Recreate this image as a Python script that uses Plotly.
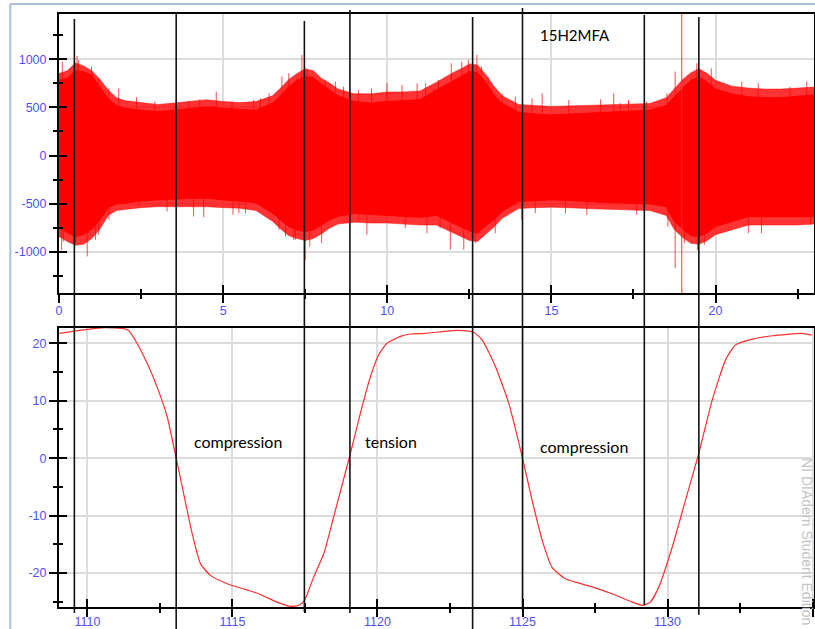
import plotly.graph_objects as go

# ---------------- upper panel: acoustic emission signal ----------------
# envelope of the dense signal body (time in s, amplitude)
ae_time = [0, 0.25, 0.5, 0.75, 1.0, 1.25, 1.5, 1.75, 2.0, 2.5, 3.0, 3.5, 4.0, 4.5,
           5.0, 5.5, 6.0, 6.5, 6.75, 7.0, 7.25, 7.5, 7.75, 8.0, 8.25, 8.5, 9.0,
           9.5, 10.0, 10.5, 11.0, 11.5, 12.0, 12.25, 12.5, 12.75, 13.0, 13.25,
           13.5, 14.0, 14.5, 15.0, 15.5, 16.0, 16.5, 17.0, 17.5, 18.0, 18.5,
           18.75, 19.0, 19.25, 19.5, 19.75, 20.0, 20.5, 21.0, 21.5, 22.0, 22.5, 23.0]
ae_upper = [780, 800, 880, 870, 830, 710, 590, 520, 490, 470, 456, 470, 490, 505,
            490, 480, 470, 543, 620, 715, 780, 819, 810, 740, 680, 620, 560,
            545, 560, 570, 580, 680, 770, 820, 870, 860, 760, 630,
            540, 450, 430, 422, 430, 439, 445, 450, 460, 470, 520,
            612, 700, 780, 815, 760, 690, 640, 610, 600, 600, 615, 629]
ae_lower = [-730, -800, -839, -820, -760, -666, -540, -500, -494, -470, -459, -450, -445, -442,
            -460, -470, -490, -597, -670, -736, -770, -788, -770, -720, -666, -630, -600,
            -610, -620, -630, -640, -620, -700, -740, -780, -805, -730, -666,
            -580, -477, -465, -459, -465, -477, -485, -490, -494, -500, -530,
            -684, -760, -830, -839, -800, -736, -680, -632, -632, -632, -632, -632]
# outer fringe reached by the frequent short bursts
ae_fringe_upper = [850, 880, 960, 930, 880, 790, 680, 600, 570, 550, 530, 545, 560, 580,
                   560, 550, 560, 620, 700, 790, 850, 900, 880, 800, 750, 690, 640,
                   640, 660, 660, 670, 760, 860, 900, 950, 940, 840, 720,
                   620, 530, 520, 510, 515, 520, 525, 530, 535, 540, 600,
                   700, 790, 860, 900, 850, 780, 720, 700, 690, 690, 700, 710]
ae_fringe_lower = [-840, -890, -930, -920, -860, -760, -620, -570, -560, -540, -530, -530, -530, -530,
                   -540, -545, -570, -680, -760, -830, -860, -880, -860, -810, -750, -710, -690,
                   -700, -700, -710, -720, -720, -800, -840, -880, -890, -820, -740,
                   -650, -550, -540, -535, -540, -550, -555, -560, -565, -570, -620,
                   -770, -850, -910, -920, -880, -820, -770, -720, -720, -720, -720, -710]

# isolated bursts standing out of the envelope
burst_up_time = [0.1, 0.55, 0.6, 0.99, 1.21, 1.52, 1.82, 2.36, 2.92, 3.95, 4.29, 4.79,
                 5.27, 5.93, 6.14, 6.4, 6.79, 7.0, 7.25, 7.4, 7.56, 8.11, 8.42, 8.67,
                 9.12, 9.52, 9.99, 10.45, 10.91, 11.17, 11.42, 11.56, 11.95, 12.27,
                 12.47, 12.73, 12.87, 13.07, 13.5, 13.9, 14.41, 14.72, 15.53, 16.5,
                 16.9, 17.1, 17.35, 17.9, 18.52, 18.77, 19.43, 19.87, 20.8, 21.3,
                 22.27, 22.78]
burst_up_peak = [974, 1033, 992, 922, 803, 698, 698, 605, 560, 567, 584, 663,
                 560, 577, 594, 646, 819, 853, 801, 1044, 888, 784, 767, 715,
                 681, 698, 750, 732, 750, 750, 698, 784, 957, 975,
                 992, 1044, 922, 819, 646, 612, 594, 646, 577, 584,
                 646, 543, 577, 560, 646, 871, 957, 905, 767, 750,
                 715, 767]
burst_down_time = [0.08, 0.14, 0.5, 0.86, 1.11, 1.21, 1.52, 2.43, 3.29, 4.1, 4.41, 5.3,
                   5.48, 5.68, 6.7, 6.9, 7.15, 7.2, 7.5, 7.64, 8.0, 9.12, 9.38, 10.55,
                   11.21, 11.61, 11.92, 12.33, 12.68, 13.29, 14.1, 14.51, 15.43, 16.08,
                   17.6, 18.55, 18.77, 19.05, 19.45, 19.66, 21.0, 21.4, 22.9]
burst_down_peak = [-977, -891, -908, -1046, -873, -822, -666, -528, -580, -632, -639, -614,
                   -597, -597, -770, -839, -873, -873, -1081, -943, -908, -666, -822, -753,
                   -805, -753, -977, -977, -908, -805, -666, -597, -597, -614,
                   -614, -736, -1167, -908, -977, -925, -805, -805, -718]
# saturated hit running past both ends of the scale
saturated_time = [18.97]
saturated_low = [-1500]
saturated_high = [1500]

# ---------------- lower panel: load cycle ----------------
load_time = [1109.03, 1110.0, 1110.56, 1111.25, 1111.42, 1111.71, 1112.06, 1112.4,
             1112.75, 1113.06, 1113.32, 1113.61, 1113.9, 1114.24, 1114.82, 1115.85,
             1116.54, 1117.0, 1117.29, 1117.48, 1117.8, 1118.15, 1118.49, 1119.05,
             1119.41, 1119.76, 1120.04, 1120.33, 1120.79, 1121.14, 1121.66, 1122.58,
             1123.15, 1123.32, 1123.61, 1124.07, 1124.53, 1125.0, 1125.33, 1125.68,
             1126.02, 1126.48, 1127.4, 1128.09, 1128.78, 1129.13, 1129.41, 1129.7,
             1130.16, 1130.62, 1131.06, 1131.54, 1132.0, 1132.34, 1132.92, 1133.61,
             1134.64, 1134.97]
load_value = [21.7, 22.4, 22.7, 22.55, 22.2, 20.0, 16.5, 12.4,
              7.2, 0.0, -6.2, -13.1, -18.4, -20.4, -21.85, -23.5,
              -25.05, -25.8, -25.6, -24.8, -20.7, -16.6, -10.2, 0.5,
              7.8, 14.2, 18.0, 20.0, 21.2, 21.6, 21.7, 22.2,
              22.1, 21.9, 20.6, 15.9, 9.5, 0.0, -7.3, -14.3,
              -19.0, -21.0, -22.4, -23.6, -25.05, -25.6, -25.05, -22.4,
              -15.5, -7.3, 0.5, 10.1, 17.1, 19.7, 20.7, 21.3,
              21.7, 21.4]

# cursor lines marking the load reversals (load-cycle time)
event_time = [1109.55, 1113.06, 1117.48, 1119.05, 1123.28, 1125.0, 1129.2, 1131.08]
event_top = [0.9916, 1.0017, 0.9882, 1.0067, 0.9949, 1.0101, 0.9983, 0.9949]
event_bottom = [-0.010, -0.037, -0.008, -0.010, -0.037, -0.005, 0.003, -0.013]

# tick labels
top_x_ticks = [0, 5, 10, 15, 20]
top_x_labels = ["0", "5", "10", "15", "20"]
top_y_ticks = [-1000, -500, 0, 500, 1000]
top_y_labels = ["-1000", "-500", "0", "500", "1000"]
bot_x_ticks = [1110, 1115, 1120, 1125, 1130, 1135]
bot_x_labels = ["1110", "1115", "1120", "1125", "1130", "1135"]
bot_y_ticks = [-20, -10, 0, 10, 20]
bot_y_labels = ["-20", "-10", "0", "10", "20"]

TOP_X_RANGE = [0, 23.0]
TOP_Y_RANGE = [-1428, 1468]
BOT_X_RANGE = [1109.02, 1135.05]
BOT_Y_RANGE = [-25.9, 22.7]

RED = "#ff0000"
TICK_BLUE = "#4f4ff2"
GRID = "#dcdcdc"

fig = go.Figure()

# fringe of short bursts, then the solid body of the signal
fig.add_trace(go.Scatter(x=ae_time, y=ae_fringe_lower, mode="lines",
                         line=dict(color="rgba(255,0,0,0.45)", width=1), xaxis="x", yaxis="y",
                         hoverinfo="skip", showlegend=False))
fig.add_trace(go.Scatter(x=ae_time, y=ae_fringe_upper, mode="lines", fill="tonexty",
                         fillcolor="rgba(255,0,0,0.8)", line=dict(color="rgba(255,0,0,0.45)", width=1),
                         xaxis="x", yaxis="y", hoverinfo="skip", showlegend=False))
fig.add_trace(go.Scatter(x=ae_time, y=ae_lower, mode="lines",
                         line=dict(color=RED, width=1), xaxis="x", yaxis="y",
                         hoverinfo="skip", showlegend=False))
fig.add_trace(go.Scatter(x=ae_time, y=ae_upper, mode="lines", fill="tonexty",
                         fillcolor=RED, line=dict(color=RED, width=1),
                         xaxis="x", yaxis="y", hoverinfo="skip", showlegend=False))


def spikes(times, lows, highs):
    xs, ys = [], []
    for t, lo, hi in zip(times, lows, highs):
        xs += [t, t, None]
        ys += [lo, hi, None]
    return xs, ys


sx, sy = spikes(burst_up_time, [0] * len(burst_up_time), burst_up_peak)
fig.add_trace(go.Scatter(x=sx, y=sy, mode="lines",
                         line=dict(color="rgba(255,0,0,0.7)", width=1),
                         xaxis="x", yaxis="y", hoverinfo="skip", showlegend=False))
sx, sy = spikes(burst_down_time, [0] * len(burst_down_time), burst_down_peak)
fig.add_trace(go.Scatter(x=sx, y=sy, mode="lines",
                         line=dict(color="rgba(255,0,0,0.7)", width=1),
                         xaxis="x", yaxis="y", hoverinfo="skip", showlegend=False))
sx, sy = spikes(saturated_time, saturated_low, saturated_high)
fig.add_trace(go.Scatter(x=sx, y=sy, mode="lines",
                         line=dict(color="rgba(255,40,40,0.8)", width=1.2),
                         xaxis="x", yaxis="y", hoverinfo="skip", showlegend=False))

# load curve
fig.add_trace(go.Scatter(x=load_time, y=load_value, mode="lines",
                         line=dict(color="#ff3030", width=1.2, shape="spline", smoothing=0.5),
                         xaxis="x2", yaxis="y2", hoverinfo="skip", showlegend=False))

# empty traces so the tick-only overlay axes get drawn
for xa, ya in (("x3", "y"), ("x", "y3"), ("x4", "y2"), ("x2", "y4")):
    fig.add_trace(go.Scatter(x=[], y=[], xaxis=xa, yaxis=ya, hoverinfo="skip", showlegend=False))

tickfont = dict(family="Liberation Sans, Arial, sans-serif", size=12.5, color=TICK_BLUE)


def base_axis(rng, tv, tt, minor_dtick, domain=None, anchor=None, standoff=0):
    ax = dict(range=rng, tickmode="array", tickvals=tv, ticktext=tt,
              showline=True, linecolor="black", linewidth=2, mirror=True,
              ticks="outside", ticklen=8, tickwidth=1.5, tickcolor="black",
              showgrid=True, gridcolor=GRID, gridwidth=1.5, zeroline=False,
              tickfont=tickfont, automargin=False, ticklabelstandoff=standoff,
              minor=dict(tickmode="linear", tick0=0, dtick=minor_dtick,
                         ticks="outside", ticklen=4, tickwidth=1.5,
                         tickcolor="black", showgrid=False))
    if domain is not None:
        ax["domain"] = domain
    if anchor is not None:
        ax["anchor"] = anchor
    return ax


def inner_ticks(rng, tv, minor_dtick, overlay, anchor, side):
    return dict(range=rng, tickmode="array", tickvals=tv, showticklabels=False,
                overlaying=overlay, anchor=anchor, side=side, automargin=False,
                showline=False, showgrid=False, zeroline=False,
                ticks="inside", ticklen=8, tickwidth=1.5, tickcolor="black",
                minor=dict(tickmode="linear", tick0=0, dtick=minor_dtick,
                           ticks="inside", ticklen=4, tickwidth=1.5,
                           tickcolor="black", showgrid=False))


TOP_DOMAIN = [0.529, 1.0]
BOT_DOMAIN = [0.0, 0.471]

fig.update_layout(
    width=815, height=629,
    margin=dict(l=59, r=1, t=14, b=22),
    paper_bgcolor="white", plot_bgcolor="white",
    showlegend=False,
    xaxis=base_axis(TOP_X_RANGE, top_x_ticks, top_x_labels, 2.5, anchor="y", standoff=-3),
    yaxis=base_axis(TOP_Y_RANGE, top_y_ticks, top_y_labels, 250, domain=TOP_DOMAIN, anchor="x"),
    xaxis2=base_axis(BOT_X_RANGE, bot_x_ticks, bot_x_labels, 2.5, anchor="y2", standoff=-6),
    yaxis2=base_axis(BOT_Y_RANGE, bot_y_ticks, bot_y_labels, 5, domain=BOT_DOMAIN, anchor="x2"),
    xaxis3=inner_ticks(TOP_X_RANGE, top_x_ticks, 2.5, "x", "y", "bottom"),
    yaxis3=inner_ticks(TOP_Y_RANGE, top_y_ticks, 250, "y", "x", "left"),
    xaxis4=inner_ticks(BOT_X_RANGE, bot_x_ticks, 2.5, "x2", "y2", "bottom"),
    yaxis4=inner_ticks(BOT_Y_RANGE, bot_y_ticks, 5, "y2", "x2", "left"),
)

# cursor lines across both panels
for t, top, bot in zip(event_time, event_top, event_bottom):
    fig.add_shape(type="line", xref="x2", yref="paper", x0=t, x1=t, y0=bot, y1=top,
                  line=dict(color="#111111", width=1.6), layer="above")

# window frame
fig.add_shape(type="line", xref="paper", yref="paper", x0=-0.0645, x1=-0.0645, y0=-0.05, y1=1.0169,
              line=dict(color="#a9bfdc", width=2))
fig.add_shape(type="line", xref="paper", yref="paper", x0=-0.0645, x1=1.01, y0=1.0169, y1=1.0169,
              line=dict(color="#a9bfdc", width=2))

title_font = dict(family="Lato, Carlito, Open Sans, sans-serif", size=15, color="black")
label_font = dict(family="Lato, Carlito, Open Sans, sans-serif", size=16, color="black")
fig.add_annotation(text="15H2MFA", x=15.72, y=1251, xref="x", yref="y",
                   showarrow=False, font=title_font)
fig.add_annotation(text="compression", x=1115.2, y=2.84, xref="x2", yref="y2",
                   showarrow=False, font=label_font)
fig.add_annotation(text="tension", x=1120.48, y=2.9, xref="x2", yref="y2",
                   showarrow=False, font=label_font)
fig.add_annotation(text="compression", x=1127.11, y=1.97, xref="x2", yref="y2",
                   showarrow=False, font=label_font)
fig.add_annotation(text="NI DIAdem Student Edition", x=0.99, y=-0.0337, xref="paper", yref="paper",
                   xanchor="center", yanchor="bottom", textangle=90, showarrow=False,
                   font=dict(family="Liberation Sans, Arial, sans-serif", size=14, color="#c4c4c4"))

fig.write_html("out.html")
